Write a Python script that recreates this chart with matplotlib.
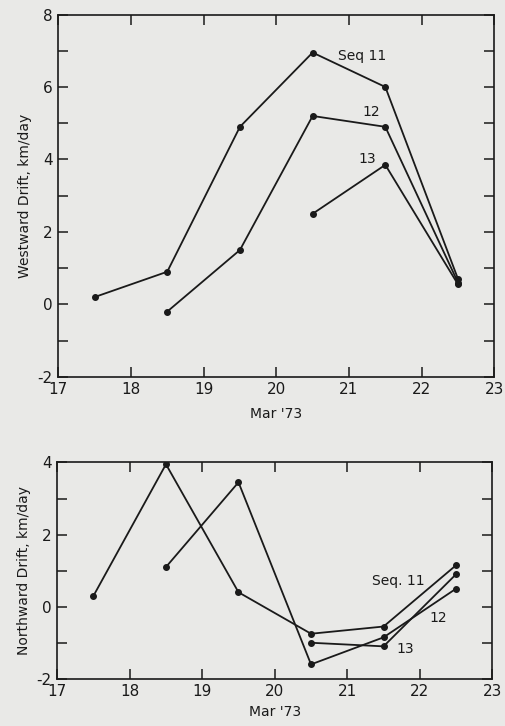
import matplotlib
matplotlib.use("Agg")
import matplotlib.pyplot as plt
from matplotlib.ticker import MultipleLocator

# -----------------------------
# data
# -----------------------------
days = [17.5, 18.5, 19.5, 20.5, 21.5, 22.5]

west_11 = [0.2, 0.9, 4.9, 6.95, 6.0, 0.7]
west_12 = [-0.2, 1.5, 5.2, 4.9, 0.6]
west_13 = [2.5, 3.85, 0.55]

north_11 = [0.3, 3.95, 0.4, -0.75, -0.55, 1.15]
north_12 = [1.1, 3.45, -1.6, -0.85, 0.5]
north_13 = [-1.0, -1.1, 0.9]

xticks = [17, 18, 19, 20, 21, 22, 23]

bg = "#e9e9e7"
ink = "#1a1a1a"
plt.rcParams["font.family"] = "DejaVu Sans"
plt.rcParams["axes.unicode_minus"] = False

fig = plt.figure(figsize=(5.06, 7.26), dpi=100, facecolor=bg)


def style_axes(ax, ylim, ylabel):
    ax.set_facecolor(bg)
    ax.set_xlim(17, 23)
    ax.set_ylim(*ylim)
    ax.set_xticks(xticks)
    ax.yaxis.set_major_locator(MultipleLocator(2))
    ax.yaxis.set_minor_locator(MultipleLocator(1))
    ax.tick_params(which="both", direction="in", top=True, right=True,
                   length=7, width=1.1, color=ink, labelsize=11,
                   labelcolor=ink, pad=4)
    for s in ax.spines.values():
        s.set_linewidth(1.2)
        s.set_color(ink)
    ax.set_ylabel(ylabel, fontsize=10, color=ink, labelpad=4)
    ax.set_xlabel("Mar '73", fontsize=10, color=ink, labelpad=7)


def draw(ax, series):
    for vals in series:
        ax.plot(days[len(days) - len(vals):], vals, color=ink, lw=1.3,
                marker="o", ms=4)


# -----------------------------
# westward drift
# -----------------------------
ax1 = fig.add_axes([0.115, 0.481, 0.862, 0.499])
style_axes(ax1, (-2, 8), "Westward Drift, km/day")
draw(ax1, [west_11, west_12, west_13])
ax1.text(20.85, 6.85, "Seq 11", fontsize=10, color=ink, va="center")
ax1.text(21.3, 5.3, "12", fontsize=10, color=ink, ha="center", va="center")
ax1.text(21.25, 4.0, "13", fontsize=10, color=ink, ha="center", va="center")

# -----------------------------
# northward drift
# -----------------------------
ax2 = fig.add_axes([0.113, 0.065, 0.86, 0.298])
style_axes(ax2, (-2, 4), "Northward Drift, km/day")
ax2.xaxis.labelpad = 4
draw(ax2, [north_11, north_12, north_13])
ax2.text(21.7, 0.72, "Seq. 11", fontsize=10, color=ink, ha="center", va="center")
ax2.text(22.25, -0.3, "12", fontsize=10, color=ink, ha="center", va="center")
ax2.text(21.8, -1.17, "13", fontsize=10, color=ink, ha="center", va="center")

fig.savefig("out.png", dpi=100, facecolor=bg)
